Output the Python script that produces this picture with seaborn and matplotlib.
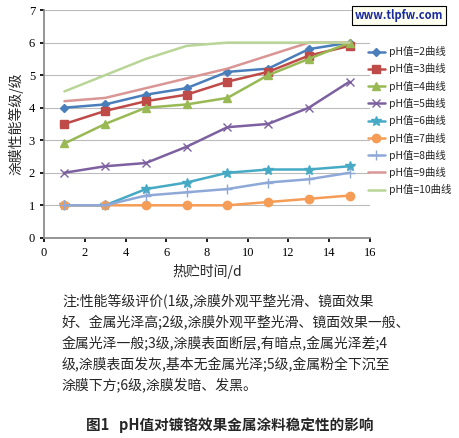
import matplotlib
matplotlib.use("Agg")
import matplotlib.pyplot as plt
import seaborn as sns
import pandas as pd

sns.set_theme(style="white")
plt.rcParams['font.family'] = ['Noto Sans CJK SC', 'DejaVu Sans']

days = [1, 3, 5, 7, 9, 11, 13, 15]
series_names = ["pH值=2曲线", "pH值=3曲线", "pH值=4曲线", "pH值=5曲线", "pH值=6曲线",
                "pH值=7曲线", "pH值=8曲线", "pH值=9曲线", "pH值=10曲线"]
ph2 = [4.0, 4.1, 4.4, 4.6, 5.1, 5.2, 5.8, 6.0]
ph3 = [3.5, 3.9, 4.2, 4.4, 4.8, 5.1, 5.6, 5.9]
ph4 = [2.9, 3.5, 4.0, 4.1, 4.3, 5.0, 5.5, 6.0]
ph5 = [2.0, 2.2, 2.3, 2.8, 3.4, 3.5, 4.0, 4.8]
ph6 = [1.0, 1.0, 1.5, 1.7, 2.0, 2.1, 2.1, 2.2]
ph7 = [1.0, 1.0, 1.0, 1.0, 1.0, 1.1, 1.2, 1.3]
ph8 = [1.0, 1.0, 1.3, 1.4, 1.5, 1.7, 1.8, 2.0]
ph9 = [4.2, 4.3, 4.6, 4.9, 5.2, 5.6, 6.0, 6.0]
ph10 = [4.5, 5.0, 5.5, 5.9, 6.0, 6.0, 6.0, 6.0]
values = [ph2, ph3, ph4, ph5, ph6, ph7, ph8, ph9, ph10]

colors = ["#4a7ebb", "#be4b48", "#98b954", "#7d60a0", "#46aac5",
          "#f59d56", "#8ea9d8", "#d99694", "#b9d597"]
markers = ["D", "s", "^", "x", "*", "o", "+", None, None]
msizes = [4, 6, 6, 6, 7, 6, 7, 0, 0]

rows = []
for name, vals in zip(series_names, values):
    for d, v in zip(days, vals):
        rows.append({"day": d, "grade": v, "series": name})
df = pd.DataFrame(rows)

fig = plt.figure(figsize=(4.59, 4.38), dpi=100)
ax = fig.add_axes([0.096, 0.457, 0.71, 0.52])
for name, c, m, ms in zip(series_names, colors, markers, msizes):
    sub = df[df.series == name]
    sns.lineplot(data=sub, x="day", y="grade", ax=ax, color=c, marker=m,
                 markersize=ms, linewidth=1.8, label=name,
                 markeredgecolor=c, markeredgewidth=1)

ax.set_xlim(0, 16)
ax.set_ylim(0, 7)
ax.set_xticks(range(0, 17, 2))
ax.set_yticks(range(0, 8))
ax.grid(axis="y", color="#bbbbbb", linewidth=0.8)
for s in ["top", "right"]:
    ax.spines[s].set_visible(False)
for s in ["left", "bottom"]:
    ax.spines[s].set_color("#888888")
ax.tick_params(labelsize=9, length=3, colors="black", direction="out", bottom=True, left=True)
for lab in ax.get_xticklabels() + ax.get_yticklabels():
    lab.set_fontfamily(["Liberation Serif", "DejaVu Serif"])
ax.set_xlabel("热贮时间/d", fontsize=10)
ax.set_ylabel("涂膜性能等级/级", fontsize=10)
ax.legend(loc="upper left", bbox_to_anchor=(0.98, 0.86), frameon=False,
          fontsize=7.5, handlelength=1.7, handletextpad=0.4, labelspacing=0.6,
          borderaxespad=0.0)

fig.text(0.965, 0.965, "www.tlpfw.com", ha="right", va="center", fontsize=8,
         color="#1a2aa0", fontweight="bold",
         bbox=dict(boxstyle="square,pad=0.25", fc="#fffff0", ec="black", lw=0.8))

note = ("注:性能等级评价(1级,涂膜外观平整光滑、镜面效果\n"
        "好、金属光泽高;2级,涂膜外观平整光滑、镜面效果一般、\n"
        "金属光泽一般;3级,涂膜表面断层,有暗点,金属光泽差;4\n"
        "级,涂膜表面发灰,基本无金属光泽;5级,金属粉全下沉至\n"
        "涂膜下方;6级,涂膜发暗、发黑。")
fig.text(0.135, 0.33, note, ha="left", va="top", fontsize=10, linespacing=1.5)
fig.text(0.5, 0.03, "图1   pH值对镀铬效果金属涂料稳定性的影响", ha="center",
         va="center", fontsize=10.5, fontweight="bold")
fig.savefig("out.png", dpi=100)
